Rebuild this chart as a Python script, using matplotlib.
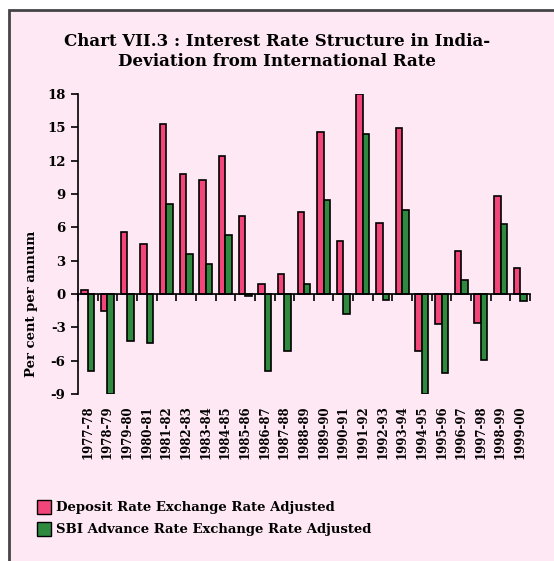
import numpy as np
import matplotlib
matplotlib.use('Agg')
import matplotlib.pyplot as plt
from matplotlib.patches import Rectangle
import matplotlib.transforms as mtransforms

years = ["1977-78", "1978-79", "1979-80", "1980-81", "1981-82", "1982-83",
         "1983-84", "1984-85", "1985-86", "1986-87", "1987-88", "1988-89",
         "1989-90", "1990-91", "1991-92", "1992-93", "1993-94", "1994-95",
         "1995-96", "1996-97", "1997-98", "1998-99", "1999-00"]
deposit = [0.4, -1.5, 5.6, 4.5, 15.3, 10.8, 10.3, 12.4, 7.0, 0.9, 1.8, 7.4,
           14.6, 4.8, 18.0, 6.4, 14.9, -5.1, -2.7, 3.9, -2.6, 8.8, 2.3]
sbi = [-6.9, -9.0, -4.2, -4.4, 8.1, 3.6, 2.7, 5.3, -0.2, -6.9, -5.1, 0.9,
       8.5, -1.8, 14.4, -0.5, 7.6, -9.0, -7.1, 1.3, -5.9, 6.3, -0.6]
yticks = [18, 15, 12, 9, 6, 3, 0, -3, -6, -9]

pink = '#F2467A'
green = '#2F8A40'
bg = '#FDE8F3'
font = 'DejaVu Serif'

fig = plt.figure(figsize=(5.54, 5.61), dpi=100)
fig.patch.set_facecolor('white')

# framed pink panel (extends past right/bottom edges)
fig.patches.append(Rectangle((9 / 554, -0.01), 1.0, 1 - 10 / 561 + 0.01,
                             transform=fig.transFigure, facecolor=bg,
                             edgecolor='#444444', linewidth=2.0, zorder=-5))

ax = fig.add_axes([78 / 554, 1 - 394 / 561, 452 / 554, 300 / 561])
ax.set_facecolor('none')

x = np.arange(len(years))
w = 0.33
ax.bar(x - w / 2, deposit, width=w, color=pink, edgecolor='black', linewidth=1.2, zorder=3)
ax.bar(x + w / 2, sbi, width=w, color=green, edgecolor='black', linewidth=1.2, zorder=3)

ax.set_xlim(-0.5, len(years) - 0.5)
ax.set_ylim(-9, 18)
ax.set_yticks(yticks)
ax.set_yticklabels([str(v) for v in yticks], fontfamily=font, fontweight='bold', fontsize=9.5)
ax.tick_params(axis='y', direction='out', length=5, width=1.2, pad=4)

for s in ['top', 'right']:
    ax.spines[s].set_visible(False)
ax.spines['left'].set_linewidth(1.2)
ax.spines['bottom'].set_position(('data', 0))
ax.spines['bottom'].set_linewidth(1.2)
ax.spines['bottom'].set_zorder(4)
ax.set_xticks(np.arange(len(years) + 1) - 0.5)
ax.set_xticklabels([])
ax.tick_params(axis='x', direction='out', length=5, width=1.2)

trans = mtransforms.blended_transform_factory(ax.transData, ax.transAxes)
for i, lab in enumerate(years):
    ax.text(i, -0.037, lab, transform=trans, rotation=90, ha='center', va='top',
            fontfamily=font, fontweight='bold', fontsize=8.5)

ax.set_ylabel('Per cent per annum', fontfamily=font, fontweight='bold', fontsize=9.5)
ax.yaxis.set_label_coords(-0.088, 0.30)

fig.text(0.5, 1 - 41 / 561, 'Chart VII.3 : Interest Rate Structure in India-',
         ha='center', va='center', fontfamily=font, fontweight='bold', fontsize=12)
fig.text(0.5, 1 - 62 / 561, 'Deviation from International Rate',
         ha='center', va='center', fontfamily=font, fontweight='bold', fontsize=12)

# legend
for yy, col, lab in [(507, pink, 'Deposit Rate Exchange Rate Adjusted'),
                     (529, green, 'SBI Advance Rate Exchange Rate Adjusted')]:
    fig.patches.append(Rectangle((37 / 554, 1 - (yy + 7) / 561), 14 / 554, 14 / 561,
                                 transform=fig.transFigure, facecolor=col,
                                 edgecolor='black', linewidth=1.0))
    fig.text(56 / 554, 1 - yy / 561, lab, ha='left', va='center',
             fontfamily=font, fontweight='bold', fontsize=9.5)

fig.savefig('out.png', dpi=100)
